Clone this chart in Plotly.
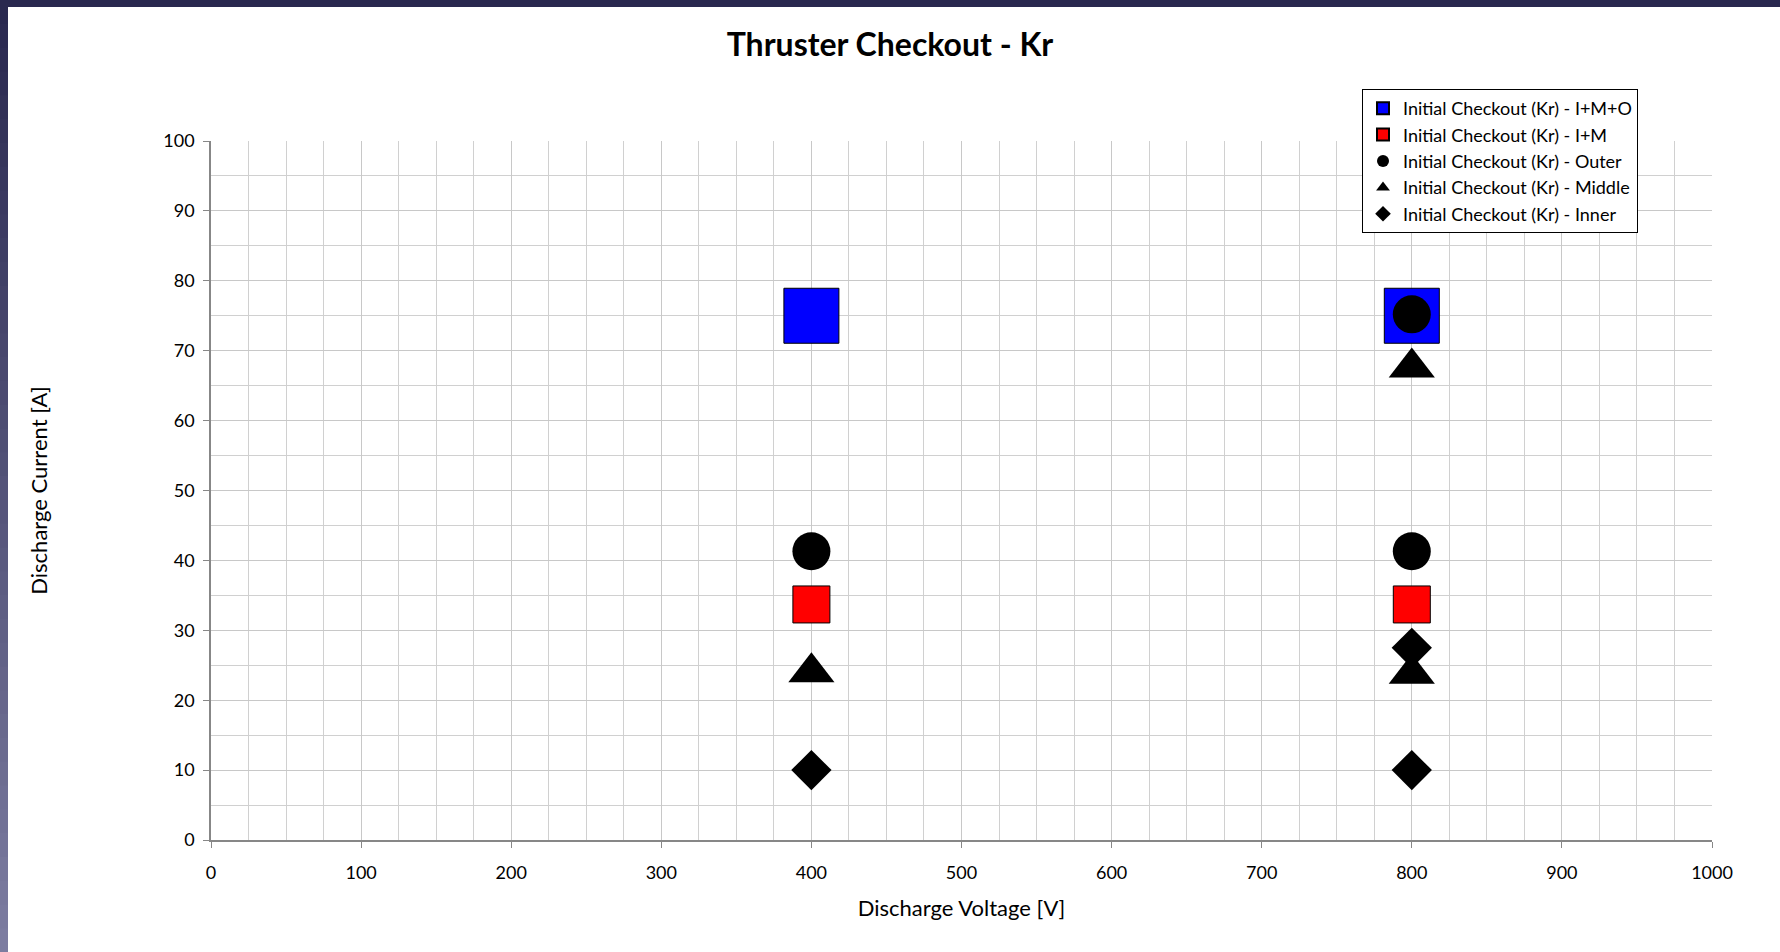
import plotly.graph_objects as go

# ---- data ----
series_names = [
    "Initial Checkout (Kr) - I+M+O",
    "Initial Checkout (Kr) - I+M",
    "Initial Checkout (Kr) - Outer",
    "Initial Checkout (Kr) - Middle",
    "Initial Checkout (Kr) - Inner",
]
imo_v = [400, 800]
imo_a = [75, 75]
im_v = [400, 800]
im_a = [33.7, 33.7]
outer_v = [400, 800, 800]
outer_a = [41.3, 41.3, 75.2]
middle_v = [400, 800, 800]
middle_a = [24.0, 23.8, 67.6]
inner_v = [400, 800, 800]
inner_a = [10.0, 10.0, 27.5]

x_ticks = [0, 100, 200, 300, 400, 500, 600, 700, 800, 900, 1000]
y_ticks = [0, 10, 20, 30, 40, 50, 60, 70, 80, 90, 100]

# ---- layout constants ----
W, H = 1780, 952
ML, MR, MT, MB = 211, 68, 141, 112
PW, PH = W - ML - MR, H - MT - MB
FONT = "Lato, Carlito, Calibri, sans-serif"

fig = go.Figure()

styles = [
    dict(symbol="square", size=55, color="#0000ff", line=dict(color="black", width=1)),
    dict(symbol="square", size=37, color="#ff0000", line=dict(color="black", width=1)),
    dict(symbol="circle", size=38, color="black", line=dict(color="black", width=0)),
    dict(symbol="triangle-up", size=40, color="black", line=dict(color="black", width=0)),
    dict(symbol="diamond", size=31, color="black", line=dict(color="black", width=0)),
]
data = [(imo_v, imo_a), (im_v, im_a), (outer_v, outer_a), (middle_v, middle_a), (inner_v, inner_a)]

for i, (name, (xv, yv), st) in enumerate(zip(series_names, data, styles)):
    fig.add_trace(go.Scatter(
        x=xv, y=yv, mode="markers", name=name, legendgroup=f"g{i}",
        marker=st, cliponaxis=False,
    ))

# decorative frame (dark strip top and left, gradient on left)
def px2x(p):
    return (p - ML) / PW

def py2y(p):
    return (H - MB - p) / PH

shapes = [dict(type="rect", xref="paper", yref="paper",
               x0=px2x(0), x1=px2x(W), y0=py2y(7), y1=py2y(0),
               fillcolor="#29284f", line=dict(width=0), layer="above")]
nseg = 40
c0 = (41, 40, 79)
c1 = (124, 124, 160)
for k in range(nseg):
    t = k / (nseg - 1)
    col = tuple(int(round(c0[j] + (c1[j] - c0[j]) * t)) for j in range(3))
    ya = k * H / nseg
    yb = (k + 1) * H / nseg + 1
    shapes.append(dict(type="rect", xref="paper", yref="paper",
                       x0=px2x(0), x1=px2x(8), y0=py2y(yb), y1=py2y(ya),
                       fillcolor="rgb(%d,%d,%d)" % col, line=dict(width=0), layer="above"))

fig.update_layout(
    width=W, height=H,
    margin=dict(l=ML, r=MR, t=MT, b=MB, autoexpand=False),
    paper_bgcolor="white", plot_bgcolor="white",
    font=dict(family=FONT, color="black", size=18),
    title=dict(text="<b>Thruster Checkout - Kr</b>", x=(890) / W, xref="container",
               y=1 - 45 / H, yref="container", yanchor="middle", xanchor="center",
               font=dict(family=FONT, size=32, color="black")),
    showlegend=True,
    legend=dict(x=px2x(1362), y=py2y(89), xanchor="left", yanchor="top",
                bgcolor="white", bordercolor="black", borderwidth=1,
                font=dict(family=FONT, size=18, color="black"),
                itemsizing="constant", tracegroupgap=3, traceorder="normal",
                itemwidth=30),
    xaxis=dict(range=[0, 1000], tickvals=x_ticks, ticktext=[str(v) for v in x_ticks],
               showgrid=True, gridcolor="#c8c8c8", gridwidth=1,
               minor=dict(dtick=25, showgrid=True, gridcolor="#d0d0d0", gridwidth=1),
               showline=True, linecolor="#878787", linewidth=1.5,
               ticks="outside", ticklen=6, tickcolor="#878787",
               ticklabelstandoff=10, zeroline=False,
               tickfont=dict(family=FONT, size=18),
               title=dict(text="Discharge Voltage [V]", standoff=18,
                          font=dict(family=FONT, size=22)),
               automargin=False, fixedrange=True),
    yaxis=dict(range=[0, 100], tickvals=y_ticks, ticktext=[str(v) for v in y_ticks],
               showgrid=True, gridcolor="#c8c8c8", gridwidth=1,
               minor=dict(dtick=5, showgrid=True, gridcolor="#d0d0d0", gridwidth=1),
               showline=True, linecolor="#878787", linewidth=1.5,
               ticks="outside", ticklen=6, tickcolor="#878787",
               ticklabelstandoff=5, zeroline=False,
               tickfont=dict(family=FONT, size=18),
               title=dict(text="Discharge Current [A]", standoff=110,
                          font=dict(family=FONT, size=22)),
               automargin=False, fixedrange=True),
    shapes=shapes,
)

fig.write_html(
    "out.html",
    config={"displayModeBar": False},
    post_script="document.body.style.margin='0px';document.body.style.overflow='hidden';",
)
